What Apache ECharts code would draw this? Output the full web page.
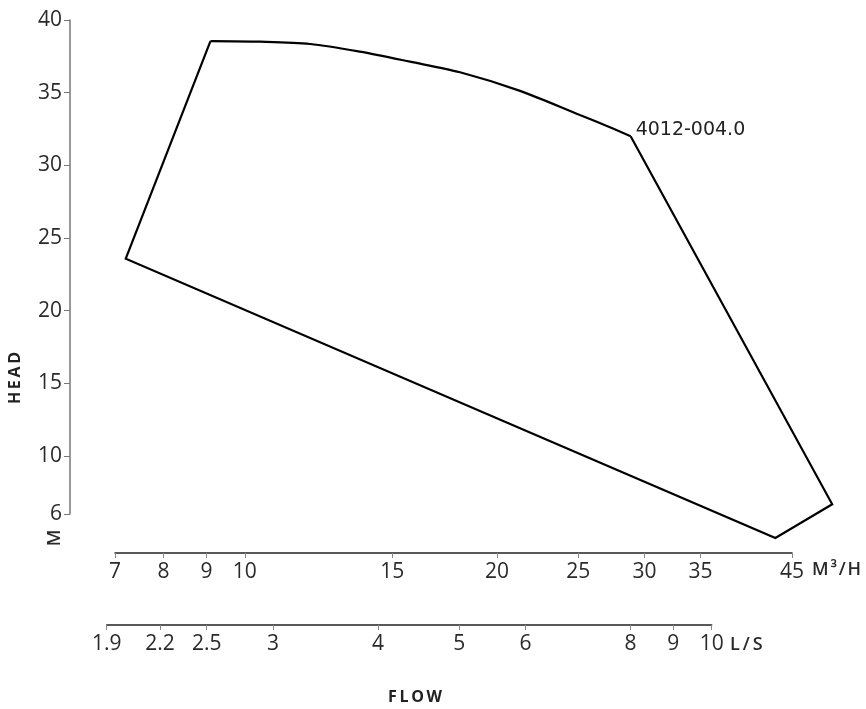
<!DOCTYPE html>
<html>
<head>
<meta charset="utf-8">
<script src="https://cdn.jsdelivr.net/npm/echarts@6/dist/echarts.min.js"></script>
<style>
  html, body { margin: 0; padding: 0; background: #fff; }
  #main { width: 866px; height: 709px; }
</style>
</head>
<body>
<div id="main"></div>
<script>
// flow in m3/h, head in m
const topFlow = [9.1, 10.43, 11.97, 13.72, 15.75, 18.07, 21.31, 25.12, 27.28, 28.88];
const topHead = [38.55, 38.51, 38.35, 37.82, 37.13, 36.4, 35.12, 33.46, 32.62, 32.0];
// remaining straight edges of the envelope
const edgeFlow = [9.1, 7.21, 42.99, 50.26, 28.88];
const edgeHead = [38.55, 23.57, 4.35, 6.67, 32.0];

const flowTicks = [7, 8, 9, 10, 15, 20, 25, 30, 35, 45];
const lsTicks = [1.9, 2.2, 2.5, 3, 4, 5, 6, 8, 9, 10];
const headTicks = [6, 10, 15, 20, 25, 30, 35, 40];
const curveName = '4012-004.0';

const chart = echarts.init(document.getElementById('main'));

const tickFont = { fontFamily: 'Open Sans', fontSize: 21, color: '#2a2a2a' };
const unitFont = { fontFamily: 'Open Sans', fontSize: 18, fontWeight: 600, fill: '#2a2a2a' };
const titleFont = { fontFamily: 'Open Sans', fontSize: 16, fontWeight: 'bold', fill: '#222' };

// small gaps between letters, like the spaced capitals of the original
function spaced(s, gap) { return s.split('').join(gap); }

function bottomAxis(grid, min, max, ticks, offset) {
  return {
    type: 'log', gridIndex: grid, min: min, max: max, position: 'bottom', offset: offset,
    axisLine: { onZero: false, lineStyle: { color: '#222', width: 1.5 } },
    axisTick: { customValues: ticks, length: 5, lineStyle: { color: '#888' } },
    axisLabel: Object.assign({ customValues: ticks, margin: 9 }, tickFont),
    splitLine: { show: false }, minorTick: { show: false }
  };
}

chart.setOption({
  animation: false,
  grid: [
    { left: 115, right: 21.4, top: 20, bottom: 195 },
    { left: 115, right: 74, top: 20, bottom: 195 },
    { left: 106.7, right: 154.3, top: 20, bottom: 195 }
  ],
  xAxis: [
    { type: 'log', gridIndex: 0, min: 7, max: 52, show: false },
    bottomAxis(1, 7, 45, flowTicks, 39),
    bottomAxis(2, 1.9, 10, lsTicks, 111)
  ],
  yAxis: [
    {
      type: 'value', gridIndex: 0, min: 6, max: 40, offset: 45,
      axisLine: { show: true, lineStyle: { color: '#777', width: 1.5 } },
      axisTick: { show: true, customValues: headTicks, length: 6, lineStyle: { color: '#777' } },
      axisLabel: Object.assign({ customValues: headTicks, margin: 8 }, tickFont),
      splitLine: { show: false }
    },
    { type: 'value', gridIndex: 1, show: false },
    { type: 'value', gridIndex: 2, show: false }
  ],
  series: [
    {
      type: 'line', xAxisIndex: 0, yAxisIndex: 0, clip: false,
      data: topFlow.map((f, i) => [f, topHead[i]]),
      smooth: 0.3, symbol: 'none',
      lineStyle: { color: '#000', width: 2.2 },
      endLabel: {
        show: true, formatter: curveName, distance: 5, offset: [0, -6],
        fontFamily: 'DejaVu Sans', fontSize: 19, color: '#222'
      }
    },
    {
      type: 'line', xAxisIndex: 0, yAxisIndex: 0, clip: false,
      data: edgeFlow.map((f, i) => [f, edgeHead[i]]), symbol: 'none',
      lineStyle: { color: '#000', width: 2.2, join: 'miter' }
    }
  ],
  graphic: [
    { type: 'text', x: 15, y: 378, rotation: Math.PI / 2,
      style: Object.assign({ text: spaced('HEAD', '\u2009'), align: 'center', verticalAlign: 'middle' }, titleFont) },
    { type: 'text', x: 55, y: 538, rotation: Math.PI / 2,
      style: Object.assign({ text: 'M', align: 'center', verticalAlign: 'middle' }, unitFont) },
    { type: 'text', x: 812, y: 570,
      style: Object.assign({ text: spaced('M³/H', '\u200A'), align: 'left', verticalAlign: 'middle' }, unitFont) },
    { type: 'text', x: 730, y: 645,
      style: Object.assign({ text: spaced('L/S', '\u2009'), align: 'left', verticalAlign: 'middle' }, unitFont) },
    { type: 'text', x: 415, y: 697,
      style: Object.assign({ text: spaced('FLOW', '\u2009'), align: 'center', verticalAlign: 'middle' }, titleFont) }
  ]
});
</script>
</body>
</html>
